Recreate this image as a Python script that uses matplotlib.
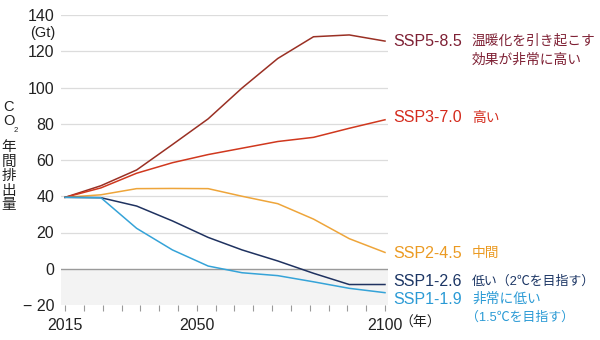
import matplotlib
matplotlib.use("Agg")
import matplotlib.pyplot as plt

plt.rcParams['font.family'] = ['Liberation Sans', 'Noto Sans CJK JP']

# x positions of the vertices as they sit on the drawn year axis
years = [2015, 2024.5, 2034, 2043.5, 2053, 2062, 2071.5, 2081, 2090.5, 2100]

ssp585 = [39.4, 45.8, 54.5, 68.5, 82.7, 99.7, 116.0, 128.0, 129.0, 125.6]
ssp370 = [39.4, 44.6, 52.7, 58.5, 63.0, 66.5, 70.2, 72.5, 77.5, 82.2]
ssp245 = [39.4, 40.8, 44.2, 44.3, 44.2, 40.0, 35.9, 27.4, 16.6, 9.0]
ssp126 = [39.4, 39.2, 34.6, 26.4, 17.3, 10.4, 4.3, -2.5, -8.7, -8.7]
ssp119 = [39.4, 39.2, 22.3, 10.4, 1.5, -2.2, -3.8, -7.2, -10.8, -13.2]

yticks = [-20, 0, 20, 40, 60, 80, 100, 120, 140]
ytick_labels = ['\u2212 20', '0', '20', '40', '60', '80', '100', '120', '140']
xlabel_years = {2015: '2015', 2050: '2050', 2100: '2100'}

series = [
    (ssp585, '#9a3024', '#7e2034', 'SSP5-8.5', ['温暖化を引き起こす', '効果が非常に高い'], 41),
    (ssp370, '#d0381e', '#d42a1c', 'SSP3-7.0', ['高い'], 118),
    (ssp245, '#eea53a', '#eb9a22', 'SSP2-4.5', ['中間'], 253),
    (ssp126, '#1f3260', '#1b3564', 'SSP1-2.6', ['低い（2℃を目指す）'], 282),
    (ssp119, '#35a3d8', '#2a9ad5', 'SSP1-1.9', ['非常に低い', '（1.5℃を目指す）'], 299),
]

W, H = 600, 340
fig = plt.figure(figsize=(W / 100, H / 100), dpi=100)
ax = fig.add_axes([61 / W, 35 / H, 327 / W, 290 / H])


def px(x, y):
    return x / W, 1 - y / H


ax.set_xlim(2013.9, 2100.8)
ax.set_ylim(-20, 140)

ax.axhspan(-20, 0, color='#f3f3f3', zorder=0, lw=0)
for v in yticks[2:]:
    ax.axhline(v, color='#dcdcdc', lw=0.9, zorder=1)
ax.axhline(0, color='#9a9a9a', lw=1, zorder=1)

for vals, lc, tc, name, desc, ty in series:
    ax.plot(years, vals, color=lc, lw=1.1, zorder=3)
    fig.text(*px(393, ty), name, color=tc, fontsize=11.5, va='center', ha='left')
    for j, line in enumerate(desc):
        x0 = 466 if line.startswith('（') else 472
        fs = 9.3 if '℃' in line else 9.9
        fig.text(*px(x0, ty + 18.5 * j), line, color=tc, fontsize=fs,
                 va='center', ha='left')

for s in ax.spines.values():
    s.set_visible(False)

ax.set_yticks(yticks)
ax.set_yticklabels(ytick_labels, fontsize=11.5, color='#222222')
ax.tick_params(axis='y', length=0, pad=5)

xt = list(range(2015, 2101, 5))
ax.set_xticks(xt)
ax.set_xticklabels([xlabel_years.get(t, '') for t in xt], fontsize=11.5, color='#222222')
ax.tick_params(axis='x', length=4, color='#9a9a9a', width=0.8, pad=5)

fig.text(*px(399, 323), '（年）', fontsize=10, color='#222222', va='center', ha='left')
fig.text(*px(55, 33), '(Gt)', fontsize=10.5, color='#222222', va='center', ha='right')

# vertical axis title
fig.text(*px(9, 107), 'C', fontsize=10.5, color='#222222', ha='center', va='center')
fig.text(*px(9, 121), 'O', fontsize=10.5, color='#222222', ha='center', va='center')
fig.text(*px(16, 131), '2', fontsize=5.5, color='#222222', ha='center', va='center')
for i, ch in enumerate('年間排出量'):
    fig.text(*px(9, 147 + i * 14.5), ch, fontsize=10.5, color='#222222', ha='center', va='center')

fig.savefig('out.png', dpi=100)
